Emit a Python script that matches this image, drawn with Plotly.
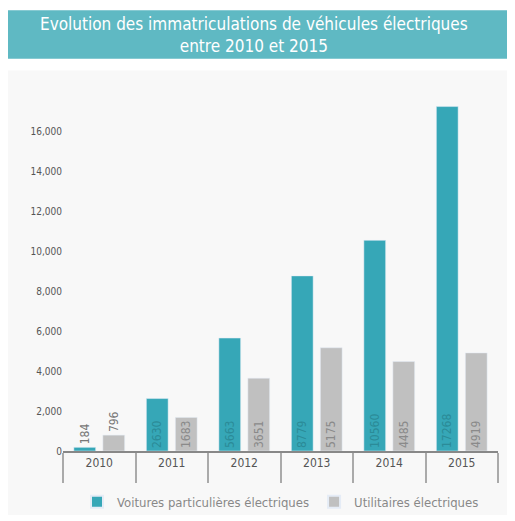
import plotly.graph_objects as go

years = ["2010", "2011", "2012", "2013", "2014", "2015"]
voitures = [184, 2630, 5663, 8779, 10560, 17268]
utilitaires = [796, 1683, 3651, 5175, 4485, 4919]
yticks = [0, 2000, 4000, 6000, 8000, 10000, 12000, 14000, 16000]

H, T, B = 521, 74, 66
ph = H - T - B
def py(px):
    return (H - B - px) / ph

fig = go.Figure()
pos = ["outside"] + ["inside"] * 5
fig.add_bar(x=years, y=voitures, name="Voitures particulières électriques",
            marker_color="#36a7b7", text=[str(v) for v in voitures],
            textposition=pos, textangle=-90, insidetextanchor="start",
            textfont=dict(color=["#777777"] + ["#2b8b98"] * 5, size=12, family="DejaVu Sans Condensed"),
            cliponaxis=False)
fig.add_bar(x=years, y=utilitaires, name="Utilitaires électriques",
            marker_color="#c0c0c0", text=[str(v) for v in utilitaires],
            textposition=pos, textangle=-90, insidetextanchor="start",
            textfont=dict(color=["#777777"] + ["#8a8a8a"] * 5, size=12, family="DejaVu Sans Condensed"),
            cliponaxis=False)

fig.update_layout(
    width=515, height=H,
    paper_bgcolor="white", plot_bgcolor="#f8f8f8",
    margin=dict(l=55, r=25, t=T, b=B),
    bargap=0.2, bargroupgap=0.25,
    font=dict(family="DejaVu Sans Condensed", color="#666666", size=11),
    showlegend=True,
    legend=dict(orientation="h", x=0.5, xanchor="center", y=py(492), yanchor="top",
                bgcolor="rgba(0,0,0,0)",
                font=dict(size=13, color="#888888"), itemsizing="constant"),
    shapes=[
        dict(type="rect", xref="paper", yref="paper", x0=-0.2, x1=1.1, y0=py(62), y1=py(521),
             fillcolor="#f8f8f8", line_width=0, layer="below"),
        dict(type="rect", xref="paper", yref="paper", x0=-0.2, x1=1.1, y0=py(0), y1=py(50),
             fillcolor="#5fb9c3", line_width=0, layer="below"),
    ],
    annotations=[dict(text="Evolution des immatriculations de véhicules électriques<br>entre 2010 et 2015",
                      xref="paper", yref="paper", x=0.44, y=py(25), yanchor="middle", showarrow=False,
                      font=dict(size=17, color="white", family="DejaVu Sans Condensed"))],
)
fig.update_xaxes(showline=True, linecolor="#888888", linewidth=2, tickson="boundaries",
                 ticks="outside", ticklen=30, tickcolor="#aaaaaa", tickwidth=2,
                 tickfont=dict(size=12, color="#555555"))
fig.update_yaxes(range=[0, 18500], tickvals=yticks, tickformat=",", showgrid=False,
                 zeroline=False, tickfont=dict(size=10, color="#555555"))
fig.write_html("out.html")
